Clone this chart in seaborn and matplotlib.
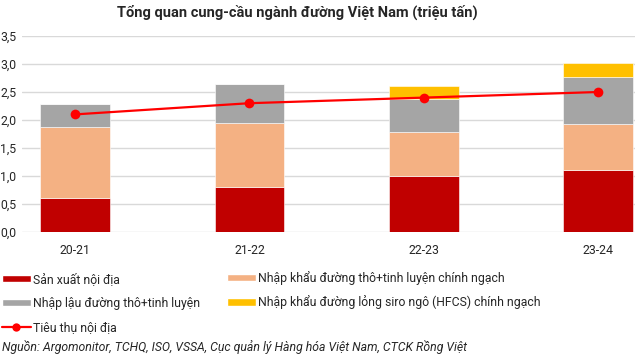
import numpy as np
import matplotlib
matplotlib.use('Agg')
import matplotlib.pyplot as plt
import seaborn as sns
from matplotlib.patches import Patch
from matplotlib.lines import Line2D

# Data (triệu tấn)
seasons = ['20-21', '21-22', '22-23', '23-24']
san_xuat = [0.6, 0.8, 1.0, 1.1]          # Sản xuất nội địa
nhap_khau = [1.28, 1.14, 0.79, 0.83]     # Nhập khẩu đường thô+tinh luyện chính ngạch
nhap_lau = [0.4, 0.7, 0.59, 0.84]        # Nhập lậu đường thô+tinh luyện
hfcs = [0.0, 0.0, 0.23, 0.25]            # Nhập khẩu đường lỏng siro ngô (HFCS) chính ngạch
tieu_thu = [2.1, 2.3, 2.4, 2.5]          # Tiêu thụ nội địa
y_ticks = [0.0, 0.5, 1.0, 1.5, 2.0, 2.5, 3.0, 3.5]

c_red = '#C00000'
c_salmon = '#F4B183'
c_gray = '#A5A5A5'
c_yellow = '#FFC000'
c_line = '#FF0000'
c_text = '#262626'

sns.set_style('white')
plt.rcParams['font.family'] = ['Roboto', 'DejaVu Sans']

fig = plt.figure(figsize=(6.35, 3.61), dpi=100)
ax = fig.add_axes([22 / 635, 129 / 361, 613 / 635, 196 / 361])

# Stacked bars
series = [(san_xuat, c_red), (nhap_khau, c_salmon), (nhap_lau, c_gray), (hfcs, c_yellow)]
bottom = np.zeros(len(seasons))
for vals, col in series:
    sns.barplot(x=seasons, y=vals, bottom=bottom, color=col, saturation=1, width=0.4,
                edgecolor='white', linewidth=0.4, ax=ax, zorder=2)
    bottom = bottom + np.array(vals)

# Consumption line
sns.lineplot(x=np.arange(len(seasons)), y=tieu_thu, color=c_line, linewidth=1.6,
             marker='o', markersize=7, markeredgewidth=0, ax=ax, zorder=4)

ax.set_xlim(-0.304, 3.21)
ax.set_ylim(0, 3.5)
ax.set_yticks(y_ticks)
ax.set_yticklabels([f'{v:.1f}'.replace('.', ',') for v in y_ticks])
ax.set_xticks(range(len(seasons)))
ax.set_xticklabels(seasons)
ax.tick_params(axis='both', length=0, labelsize=8.8, colors=c_text)
ax.tick_params(axis='y', pad=4)
ax.tick_params(axis='x', pad=9)
ax.grid(axis='y', color='#D9D9D9', linewidth=1)
ax.set_axisbelow(True)
for s in ax.spines.values():
    s.set_visible(False)
ax.set_xlabel('')
ax.set_ylabel('')

fig.text(297 / 635, 1 - 12 / 361, 'Tổng quan cung-cầu ngành đường Việt Nam (triệu tấn)',
         ha='center', va='center', fontsize=10.5, fontweight='bold', color=c_text)

# Legends
h1 = [Patch(facecolor=c_red, label='Sản xuất nội địa'),
      Patch(facecolor=c_gray, label='Nhập lậu đường thô+tinh luyện'),
      Line2D([0], [0], color=c_line, lw=1.6, marker='o', markersize=6, markeredgewidth=0,
             label='Tiêu thụ nội địa')]
h2 = [Patch(facecolor=c_salmon, label='Nhập khẩu đường thô+tinh luyện chính ngạch'),
      Patch(facecolor=c_yellow, label='Nhập khẩu đường lỏng siro ngô (HFCS) chính ngạch')]

leg1 = fig.legend(handles=h1, loc='upper left', bbox_to_anchor=(2 / 635, 1 - 273 / 361),
                  frameon=False, fontsize=8.8, borderpad=0, borderaxespad=0,
                  handlelength=2.35, handleheight=0.55, handletextpad=0.2, labelspacing=0.9)
leg2 = fig.legend(handles=h2, loc='upper left', bbox_to_anchor=(227 / 635, 1 - 271 / 361),
                  frameon=False, fontsize=8.8, borderpad=0, borderaxespad=0,
                  handlelength=2.35, handleheight=0.55, handletextpad=0.2, labelspacing=0.85)
for leg in (leg1, leg2):
    for t in leg.get_texts():
        t.set_color(c_text)

fig.text(2 / 635, 1 - 347 / 361,
         'Nguồn: Argomonitor, TCHQ, ISO, VSSA, Cục quản lý Hàng hóa Việt Nam, CTCK Rồng Việt',
         ha='left', va='center', fontsize=8.8, style='italic', color=c_text)

fig.savefig('out.png', dpi=100)
